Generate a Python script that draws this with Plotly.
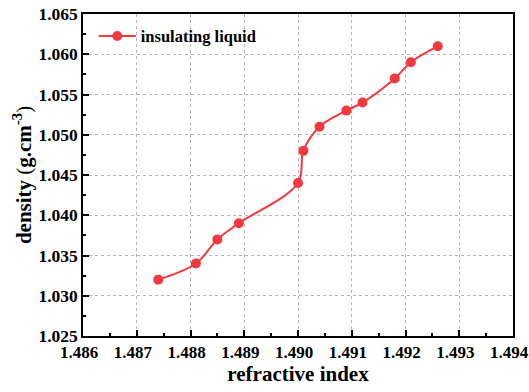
import plotly.graph_objects as go

refractive_index = [1.4874, 1.4881, 1.4885, 1.4889, 1.4900, 1.4901, 1.4904,
                    1.4909, 1.4912, 1.4918, 1.4921, 1.4926]
density = [1.032, 1.034, 1.037, 1.039, 1.044, 1.048, 1.051,
           1.053, 1.054, 1.057, 1.059, 1.061]
series_name = "insulating liquid"
x_ticks = [1.486, 1.487, 1.488, 1.489, 1.490, 1.491, 1.492, 1.493, 1.494]
y_ticks = [1.025, 1.030, 1.035, 1.040, 1.045, 1.050, 1.055, 1.060, 1.065]

red = "#f4383f"
font_family = "Liberation Serif"

fig = go.Figure()
fig.add_trace(go.Scatter(
    x=refractive_index, y=density, name="<b>" + series_name + "</b>",
    mode="lines+markers",
    line=dict(color=red, width=2, shape="spline", smoothing=1.0),
    marker=dict(color=red, size=10),
))

def axis_style(size):
    return dict(
        showline=True, linecolor="black", linewidth=1.5, mirror=True,
        ticks="inside", ticklen=6, tickwidth=1.5, tickcolor="black",
        showgrid=True, gridcolor="#b4b4b4", griddash="dot", gridwidth=1,
        zeroline=False, ticklabeloverflow="allow", automargin=False,
        tickfont=dict(family=font_family, size=size, color="black"),
        minor=dict(ticks="inside", ticklen=3, tickwidth=1.5, tickcolor="black",
                   showgrid=False),
    )

fig.update_xaxes(
    range=[1.486, 1.494], tickmode="array", tickvals=x_ticks,
    ticktext=[f"<b>{v:.3f}</b>" for v in x_ticks],
    minor_dtick=0.0005, ticklabelshift=-4,
    title=dict(text="<b>refractive index</b>", standoff=5,
               font=dict(family=font_family, size=21, color="black")),
    **axis_style(17),
)
fig.update_yaxes(
    range=[1.025, 1.065], tickmode="array", tickvals=y_ticks,
    ticktext=[f"<b>{v:.3f}</b>" for v in y_ticks],
    minor_dtick=0.0025,
    title=dict(text="<b>density</b> (<b>g.cm<sup>-3</sup></b>)", standoff=1,
               font=dict(family=font_family, size=21, color="black")),
    **axis_style(17.5),
)

fig.update_layout(
    width=529, height=392,
    margin=dict(l=83, r=16, t=14, b=56),
    plot_bgcolor="white", paper_bgcolor="white",
    showlegend=True,
    font=dict(family=font_family, color="black"),
    legend=dict(x=0.025, y=0.985, xanchor="left", yanchor="top",
                itemwidth=37,
                bgcolor="rgba(0,0,0,0)",
                font=dict(family=font_family, size=16.5, color="black")),
)

fig.write_html("out.html")
